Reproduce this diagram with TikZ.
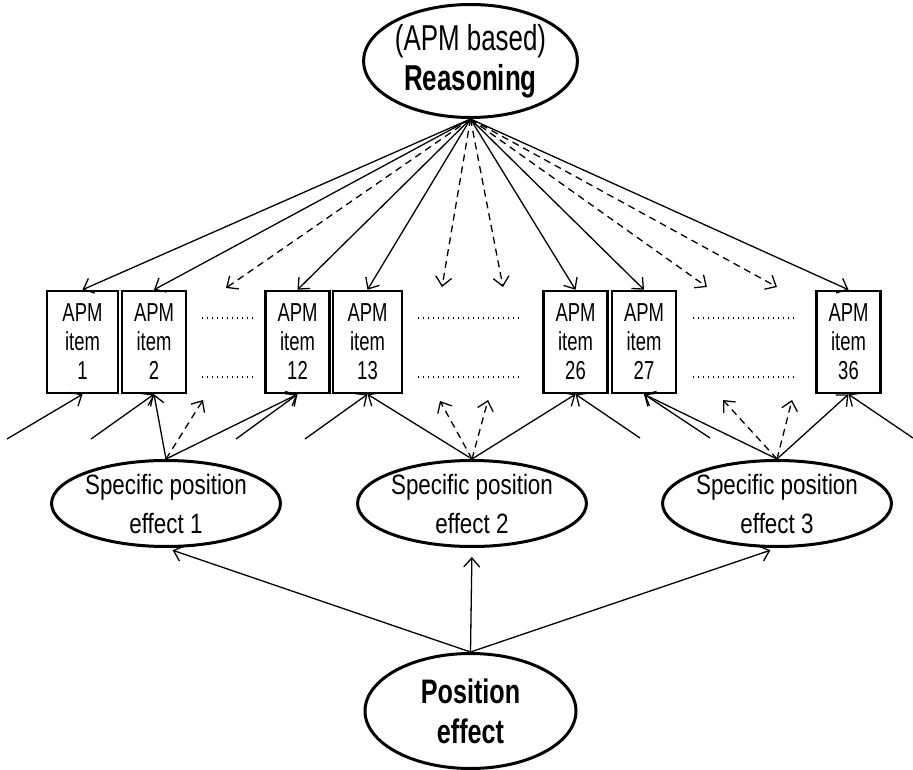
\documentclass[tikz,border=0pt]{standalone}
\usepackage{fontspec}
\setmainfont{Liberation Sans}
\newfontfamily\fA{Liberation Sans}[FakeStretch=0.71]
\newfontfamily\fT{Liberation Sans}[FakeStretch=0.72]
\newfontfamily\fB{Liberation Sans}[FakeStretch=0.80]
\newfontfamily\fC{Liberation Sans}[FakeStretch=0.74]
\usetikzlibrary{shapes.geometric,arrows.meta,calc}
\begin{document}
\begin{tikzpicture}[x=1pt,y=-1pt,
  bigell/.style={draw,line width=3pt,ellipse,inner sep=0pt,minimum width=207pt,minimum height=113pt,align=center},
  speell/.style={draw,line width=3pt,ellipse,inner sep=0pt,minimum width=203pt,minimum height=86pt,align=center,
     font=\fB\fontsize{28}{39}\selectfont},
  itembox/.style={draw,line width=2.5pt,rectangle,inner sep=0pt,minimum width=64pt,minimum height=102pt,align=center,
     font=\fA\fontsize{26}{29}\selectfont},
  conn/.style={line width=1.3pt,-{Straight Barb[length=9pt,width=16pt,line width=1.3pt]}},
  dconn/.style={conn,dash pattern=on 7pt off 5pt},
  dotline/.style={line width=1.3pt,dash pattern=on 1.3pt off 3.7pt},
  gap/.style={shorten >=7pt}
]
\fill[white] (0,0) rectangle (913,770);
\useasboundingbox (0,0) rectangle (913,770);

% top latent
\node[bigell,font=\fT\fontsize{36}{40}\selectfont] (R) at (470.5,61) {(APM based)\\\textbf{Reasoning}};

% items
\node[itembox,minimum width=71pt] (b1)  at (82.5,342) {APM\\item\\1};
\node[itembox] (b2)  at (154,342) {APM\\item\\2};
\node[itembox] (b12) at (297.5,342) {APM\\item\\12};
\node[itembox,minimum width=69pt] (b13) at (367.5,342) {APM\\item\\13};
\node[itembox] (b26) at (575.5,342) {APM\\item\\26};
\node[itembox] (b27) at (644,342) {APM\\item\\27};
\node[itembox] (b36) at (848.5,342) {APM\\item\\36};

% dotted fillers
\draw[dotline] (202,318) -- (253,318);
\draw[dotline] (202,377) -- (253,377);
\draw[dotline] (418,318) -- (521,318);
\draw[dotline] (418,377) -- (521,377);
\draw[dotline] (693,318) -- (795,318);
\draw[dotline] (693,377) -- (795,377);

% specific position effects
\node[speell] (S1) at (166,503.5) {Specific position\\effect 1};
\node[speell] (S2) at (472,503.5) {Specific position\\effect 2};
\node[speell] (S3) at (777,503.5) {Specific position\\effect 3};

% general position effect
\node[bigell,minimum width=211pt,minimum height=115pt,font=\fC\bfseries\fontsize{34}{40}\selectfont] (P) at (470.5,711) {Position\\effect};

% free coordinates
\coordinate (d1) at (226,288);
\coordinate (d2) at (442,287);
\coordinate (d3) at (503,287);
\coordinate (d4) at (707,287);
\coordinate (d5) at (777,287);
\coordinate (e1) at (203,400);
\coordinate (e2) at (440,401);
\coordinate (e3) at (488,400);
\coordinate (e4) at (723,400);
\coordinate (e5) at (792,400);
\coordinate (r1) at (7,439);
\coordinate (r2) at (91,439);
\coordinate (r12) at (236,439);
\coordinate (r13) at (305,439);
\coordinate (r26) at (640,438);
\coordinate (r27) at (710,438);
\coordinate (r36) at (913,438);

% loadings of reasoning
\foreach \b in {b1,b2,b12,b13,b26,b27,b36} \draw[conn] (R.south) -- (\b.north);
\foreach \d in {d1,d2,d3,d4,d5} \draw[dconn] (R.south) -- (\d);

% specific position effects loadings
\draw[conn] (S1.north) -- (b2.south);
\draw[conn] (S1.north) -- (b12.south);
\draw[dconn] (S1.north) -- (e1);
\draw[conn] (S2.north) -- (b13.south);
\draw[conn] (S2.north) -- (b26.south);
\draw[dconn] (S2.north) -- (e2);
\draw[dconn] (S2.north) -- (e3);
\draw[conn] (S3.north) -- (b27.south);
\draw[conn] (S3.north) -- (b36.south);
\draw[dconn] (S3.north) -- (e4);
\draw[dconn] (S3.north) -- (e5);

% residuals
\draw[conn] (r1) -- (b1.south);
\draw[conn] (r2) -- (b2.south);
\draw[conn] (r12) -- (b12.south);
\draw[conn] (r13) -- (b13.south);
\draw[conn] (r26) -- (b26.south);
\draw[conn] (r27) -- (b27.south);
\draw[conn] (r36) -- (b36.south);

% position effect
\draw[conn,gap] (P.north) -- (S1.south);
\draw[conn,shorten >=9pt] (P.north) -- (S2.south);
\draw[conn,gap] (P.north) -- (S3.south);
\end{tikzpicture}
\end{document}
